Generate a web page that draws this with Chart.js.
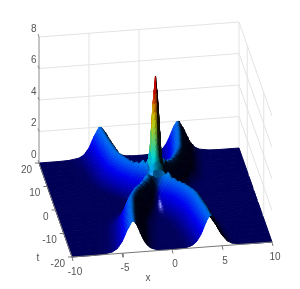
<!DOCTYPE html>
<html>
<head>
<meta charset="utf-8">
<style>
  html, body { margin: 0; padding: 0; background: #fff; }
  #chart { display: block; filter: blur(0.5px); }
</style>
<script src="https://cdn.jsdelivr.net/npm/chart.js@4"></script>
</head>
<body>
<canvas id="chart" width="300" height="289"></canvas>
<script>
// surface is mirrored around x=0 and t=0, so only |x| and |t| are listed
const absX = [0, .25, .5, .75, 1, 1.25, 1.5, 1.75, 2, 2.25, 2.5, 2.75, 3, 3.25, 3.5, 3.75, 4, 4.5, 5, 5.5, 6, 7, 8, 10];
const absT = [0, .5, 1, 1.5, 2, 3, 4, 5, 6, 7, 8, 9, 10, 12, 14, 16, 18, 20];
const z_t0   = [8, 6.29, 3.36, 1.45, .57, .22, .08, .03, .01, 0, 0, 0, 0, 0, 0, 0, 0, 0, 0, 0, 0, 0, 0, 0];
const z_t0_5 = [7, 5.7, 3.3, 1.54, .67, .32, .14, .07, .03, .02, .01, 0, 0, 0, 0, 0, 0, 0, 0, 0, 0, 0, 0, 0];
const z_t1   = [5.2, 4.5, 3.1, 1.8, .95, .55, .3, .16, .08, .05, .03, .02, .01, 0, 0, 0, 0, 0, 0, 0, 0, 0, 0, 0];
const z_t1_5 = [3.9, 3.57, 2.78, 1.9, 1.19, .75, .45, .26, .15, .09, .06, .03, .02, .01, .01, 0, 0, 0, 0, 0, 0, 0, 0, 0];
const z_t2   = [2.9, 2.8, 2.55, 2.2, 1.8, 1.35, .95, .65, .42, .27, .17, .11, .07, .04, .02, .01, .01, 0, 0, 0, 0, 0, 0, 0];
const z_t3   = [1.4, 1.55, 1.85, 2.1, 2.3, 2.15, 1.9, 1.5, 1.05, .72, .47, .3, .19, .12, .07, .05, .03, .01, 0, 0, 0, 0, 0, 0];
const z_t4   = [.7, .75, .9, 1.2, 1.55, 1.85, 2.05, 1.97, 1.71, 1.35, .97, .66, .43, .27, .17, .11, .07, .03, .01, 0, 0, 0, 0, 0];
const z_t5   = [.35, .38, .45, .62, .88, 1.2, 1.57, 1.88, 2, 1.88, 1.57, 1.2, .84, .56, .36, .23, .14, .05, .02, .01, 0, 0, 0, 0];
const z_t6   = [.18, .19, .24, .33, .48, .73, 1.05, 1.42, 1.77, 1.98, 1.96, 1.71, 1.35, .97, .66, .43, .27, .11, .04, .02, .01, 0, 0, 0];
const z_t7   = [.09, .1, .14, .2, .31, .47, .72, 1.05, 1.42, 1.77, 1.98, 1.96, 1.71, 1.35, .97, .66, .43, .17, .07, .02, .01, 0, 0, 0];
const z_t8   = [.06, .06, .08, .13, .2, .3, .48, .72, 1.05, 1.42, 1.77, 1.98, 1.96, 1.71, 1.35, .97, .66, .27, .11, .04, .02, 0, 0, 0];
const z_t9   = [.04, .04, .06, .09, .13, .22, .33, .51, .78, 1.12, 1.5, 1.83, 2, 1.92, 1.64, 1.27, .9, .39, .16, .06, .02, 0, 0, 0];
const z_t10  = [.03, .03, .04, .06, .1, .16, .25, .39, .61, .9, 1.27, 1.64, 1.92, 2, 1.83, 1.5, 1.12, .51, .21, .08, .03, 0, 0, 0];
const z_t12  = [.02, .02, .03, .04, .07, .12, .19, .3, .47, .72, 1.05, 1.42, 1.77, 1.98, 1.96, 1.71, 1.35, .66, .27, .11, .04, .01, 0, 0];
const z_t14  = [.01, .02, .02, .03, .05, .09, .14, .23, .36, .56, .84, 1.2, 1.57, 1.88, 2, 1.88, 1.57, .84, .36, .14, .05, .01, 0, 0];
const z_t16  = [.01, .01, .02, .03, .05, .07, .11, .17, .27, .43, .66, .97, 1.35, 1.71, 1.96, 1.98, 1.77, 1.05, .47, .19, .07, .01, 0, 0];
const z_t18  = [.01, .01, .01, .02, .04, .05, .09, .14, .23, .36, .56, .84, 1.2, 1.57, 1.88, 2, 1.88, 1.2, .56, .23, .09, .01, 0, 0];
const z_t20  = [.01, .01, .01, .02, .03, .04, .07, .11, .17, .27, .43, .66, .97, 1.35, 1.71, 1.96, 1.98, 1.42, .72, .3, .12, .02, 0, 0];
const zRows = [z_t0, z_t0_5, z_t1, z_t1_5, z_t2, z_t3, z_t4, z_t5, z_t6, z_t7, z_t8, z_t9, z_t10, z_t12, z_t14, z_t16, z_t18, z_t20];

const xTicks = [-10, -5, 0, 5, 10];
const tTicks = [-20, -10, 0, 10, 20];
const zTicks = [0, 2, 4, 6, 8];
const backGridX = [-5, 0];
const sideGridT = [10, -10];

// affine view of the box, same as the fixed camera of the picture
function project(x, t, z) {
    const a = (x + 10) / 20, b = (20 - t) / 40;
    return {
        x: 39 + a * 200 + b * 33,
        y: 163 - a * 15 + b * 94 - z * 15.75
    };
}

function jet(v) {
    const clip = (n) => Math.max(0, Math.min(1, n));
    return [
        clip(1.5 - Math.abs(4 * v - 3)),
        clip(1.5 - Math.abs(4 * v - 2)),
        clip(1.5 - Math.abs(4 * v - 1))
    ];
}

// grid with the mirrored side added back
const gridX = [...absX].reverse().map((v) => -v).concat(absX.slice(1));
const gridT = [...absT].reverse().map((v) => -v).concat(absT.slice(1));
function zAt(i, j) {
    const row = zRows[absT.indexOf(Math.abs(gridT[j]))];
    return row[absX.indexOf(Math.abs(gridX[i]))];
}

// slope at a grid vertex, for smooth shading across a cell
function slopeAt(i, j) {
    const i0 = Math.max(0, i - 1), i1 = Math.min(gridX.length - 1, i + 1);
    const j0 = Math.max(0, j - 1), j1 = Math.min(gridT.length - 1, j + 1);
    return [
        (zAt(i1, j) - zAt(i0, j)) / (gridX[i1] - gridX[i0]),
        (zAt(i, j1) - zAt(i, j0)) / (gridT[j1] - gridT[j0])
    ];
}

const light = [-0.72, -0.1, 0.68];
const half = [-0.06, -0.36, 0.93];

function shade(z, sx, st) {
    // values near zero are rounded, their slopes only give noise
    const calm = Math.min(1, z / 0.1);
    const len = Math.hypot(sx * calm, st * calm, 1);
    const n = [-sx * calm / len, -st * calm / len, 1 / len];
    const diff = Math.max(0, n[0] * light[0] + n[1] * light[1] + n[2] * light[2]);
    const spec = Math.pow(Math.max(0, n[0] * half[0] + n[1] * half[1] + n[2] * half[2]), 90);
    const c = jet(z / 8);
    const k = 0.08 + 0.88 * diff;
    return 'rgb(' + c.map((v) => Math.round(255 * Math.min(1, v * k + 0.7 * spec))).join(',') + ')';
}

const frontLines = [], backLines = [], quads = [];

function lineSet(from, to, color, width) {
    return {
        data: [from, to],
        borderColor: color,
        borderWidth: width,
        pointRadius: 0,
        fill: false
    };
}

// back walls
zTicks.forEach((z) => {
    if (z > 0) {
        backLines.push(lineSet(project(-10, 20, z), project(10, 20, z), '#e3e3e3', 1));
        backLines.push(lineSet(project(10, 20, z), project(10, -20, z), '#e3e3e3', 1));
    }
});
backGridX.forEach((x) => backLines.push(lineSet(project(x, 20, 0), project(x, 20, 8), '#e3e3e3', 1)));
sideGridT.forEach((t) => backLines.push(lineSet(project(10, t, 0), project(10, t, 8), '#e3e3e3', 1)));
backLines.push(lineSet(project(10, 20, 0), project(10, 20, 8), '#e3e3e3', 1));

// axes and ticks in front of the surface
frontLines.push(lineSet(project(-10, 20, 0), project(-10, 20, 8), '#8a8a8a', 1));
frontLines.push(lineSet(project(-10, 20, 0), project(-10, -20, 0), '#777777', 1));
frontLines.push(lineSet(project(-10, -20, 0), project(10, -20, 0), '#777777', 1));
xTicks.forEach((x) => {
    const p = project(x, -20, 0);
    frontLines.push(lineSet(p, { x: p.x + 1, y: p.y + 4 }, '#777777', 1));
});
tTicks.forEach((t) => {
    const p = project(-10, t, 0);
    frontLines.push(lineSet(p, { x: p.x - 4, y: p.y }, '#777777', 1));
});
zTicks.forEach((z) => {
    const p = project(-10, 20, z);
    frontLines.push(lineSet(p, { x: p.x - 1, y: p.y - 3 }, '#8a8a8a', 1));
});

// one cell is split for shading only, its corners stay the read values
function pushCell(i, j) {
    const z00 = zAt(i, j), z10 = zAt(i + 1, j), z01 = zAt(i, j + 1), z11 = zAt(i + 1, j + 1);
    const dx = gridX[i + 1] - gridX[i], dt = gridT[j + 1] - gridT[j];
    const rise = Math.max(z00, z10, z01, z11) - Math.min(z00, z10, z01, z11);
    const flat = rise < 0.02;
    const nx = flat ? 1 : Math.min(3, Math.ceil(dx * 10 / 2));
    const nt = flat ? 1 : Math.min(3, Math.ceil((dt * 2.35 + rise * 15) / 3));
    const s00 = slopeAt(i, j), s10 = slopeAt(i + 1, j), s01 = slopeAt(i, j + 1), s11 = slopeAt(i + 1, j + 1);
    const mix = (a, b, c, d, u, v) => (a * (1 - u) + b * u) * (1 - v) + (c * (1 - u) + d * u) * v;
    const at = (u, v) => project(gridX[i] + u * dx, gridT[j] + v * dt, mix(z00, z10, z01, z11, u, v));
    for (let b = nt - 1; b >= 0; b--) {
        for (let a = nx - 1; a >= 0; a--) {
            const u0 = a / nx, u1 = (a + 1) / nx, v0 = b / nt, v1 = (b + 1) / nt;
            const uc = (u0 + u1) / 2, vc = (v0 + v1) / 2;
            const color = shade(
                mix(z00, z10, z01, z11, uc, vc),
                mix(s00[0], s10[0], s01[0], s11[0], uc, vc),
                mix(s00[1], s10[1], s01[1], s11[1], uc, vc)
            );
            quads.push({
                data: [at(u0, v0), at(u1, v0), at(u1, v1), at(u0, v1), at(u0, v0)],
                borderColor: color,
                backgroundColor: color,
                borderWidth: 1,
                pointRadius: 0,
                fill: 'shape'
            });
        }
    }
}

// back to front, and x=10 is the far side
for (let j = gridT.length - 2; j >= 0; j--) {
    for (let i = gridX.length - 2; i >= 0; i--) {
        pushCell(i, j);
    }
}

const tickLabels = {
    id: 'tickLabels',
    afterDraw(chart) {
        const ctx = chart.ctx;
        const sx = chart.scales.x, sy = chart.scales.y;
        ctx.save();
        ctx.font = '10px "Liberation Sans"';
        ctx.fillStyle = '#555555';
        ctx.textBaseline = 'middle';
        ctx.textAlign = 'center';
        xTicks.forEach((x) => {
            const p = project(x, -20, 0);
            ctx.fillText(String(x), sx.getPixelForValue(p.x + 3), sy.getPixelForValue(p.y + 15));
        });
        ctx.fillText('x', sx.getPixelForValue(148), sy.getPixelForValue(278));
        ctx.fillText('t', sx.getPixelForValue(38), sy.getPixelForValue(258));
        ctx.textAlign = 'right';
        tTicks.forEach((t) => {
            const p = project(-10, t, 0);
            ctx.fillText(String(t), sx.getPixelForValue(p.x - 7), sy.getPixelForValue(p.y + 7));
        });
        zTicks.forEach((z) => {
            const p = project(-10, 20, z);
            ctx.fillText(String(z), sx.getPixelForValue(p.x - 2.5), sy.getPixelForValue(p.y - 8));
        });
        ctx.restore();
    }
};

// chart.js paints the first dataset last
new Chart(document.getElementById('chart').getContext('2d'), {
    type: 'line',
    data: { datasets: [...frontLines, ...quads.reverse(), ...backLines] },
    options: {
        responsive: false,
        animation: false,
        events: [],
        parsing: false,
        normalized: true,
        layout: { padding: 0 },
        plugins: { legend: false, tooltip: { enabled: false } },
        scales: {
            x: { type: 'linear', min: 0, max: 300, display: false },
            y: { type: 'linear', min: 0, max: 289, reverse: true, display: false }
        }
    },
    plugins: [tickLabels]
});
</script>
</body>
</html>
